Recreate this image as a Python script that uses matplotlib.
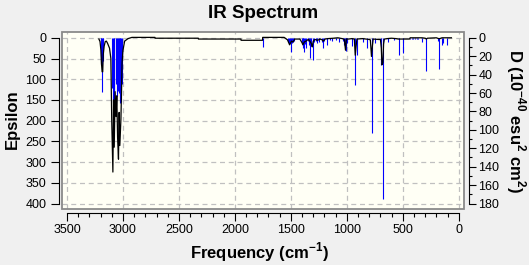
import matplotlib
matplotlib.use('Agg')
import matplotlib.pyplot as plt
from matplotlib.patches import Rectangle
from matplotlib.ticker import MultipleLocator

plt.rcParams['font.family'] = ['Liberation Sans', 'DejaVu Sans']
plt.rcParams['mathtext.fontset'] = 'custom'
plt.rcParams['mathtext.rm'] = 'Liberation Sans'
plt.rcParams['mathtext.bf'] = 'Liberation Sans:bold'

# broadened spectrum (black), frequency in cm-1 and epsilon
spec_freq = [3215, 3205, 3197, 3192, 3186, 3181, 3176, 3168, 3158, 3148, 3138, 3120, 3108,
             3100, 3090, 3084, 3078, 3070, 3062, 3055, 3048, 3040, 3034, 3028, 3018, 3008,
             3000, 2985, 2955, 2920, 2714, 2713, 2327, 2326, 1946, 1945, 1753, 1752,
             1560, 1530, 1511, 1495, 1480, 1465, 1420, 1400, 1393, 1380, 1365, 1345, 1330,
             1315, 1309, 1300, 1285, 1260, 1240, 1220, 1210, 1195, 1170, 1120, 1080, 1040,
             1022, 1012, 1004, 985, 955, 933, 925, 917, 910, 860, 830, 800, 790, 780, 772,
             765, 720, 700, 692, 686, 678, 672, 665, 640, 600, 560, 540, 505, 495, 440,
             435, 330, 300, 290, 280, 200, 180, 170, 150, 100, 66]
spec_eps = [3, 9, 30, 62, 82, 82, 40, 20, 9, 8, 13, 25, 50,
            203, 324, 150, 264, 130, 190, 140, 240, 293, 180, 260, 195, 60,
            30, 8, 2, -1, -1, 1, 1, 3, 3, 6, 6, -1,
            -1, 5, 17, 8, 10, 3, 3, 12, 17, 10, 8, 4, 8,
            15, 22, 8, 4, 6, 3, 5, 8, 3, 2, 1, 0, 2,
            4, 30, 3, 3, 2, 3, 42, 20, 3, 2, 3, 4, 5, 45, 20,
            3, 4, 4, 25, 65, 60, 15, 3, 2, 1, 2, 3, 3, 3, 3,
            0, 0, 1, 3, 1, 0, 2, 2, 0, 0, 0]

# stick spectrum (blue), frequency in cm-1 and D (1e-40 esu2 cm2)
stick_freq = [3198, 3192, 3186, 3180, 3175,
              3094, 3088, 3082, 3076, 3060, 3054, 3048,
              3034, 3028, 3022, 3016, 3010,
              1752, 1525, 1518, 1510, 1499, 1490, 1480, 1472,
              1405, 1395, 1390, 1383, 1375, 1362, 1350, 1335, 1329, 1318, 1300, 1290,
              1279, 1264, 1246, 1225, 1210, 1200, 1175, 1150, 1130, 1100, 1068, 1037,
              1025, 1018, 1010, 1005, 997, 951, 925, 907, 859, 817, 773, 749, 698, 674,
              630, 576, 532, 498, 435, 420, 405, 390, 375, 362, 326, 293, 190, 174,
              153, 138, 103]
stick_d = [20, 30, 58.7, 25, 10,
           55, 70, 76, 65, 50, 63, 58,
           60, 70.6, 65, 70, 50,
           9.8, 5, 7, 6, 15.2, 6, 5, 4,
           6, 10.8, 8, 15.2, 7, 11.5, 4, 8, 22.4, 9, 23.9, 5,
           4, 6, 4.3, 5, 11.6, 4, 7.9, 2, 3.6, 2, 4.3, 3.6,
           8, 10, 14, 12, 6, 8.7, 51, 18.8, 4.3, 11.6, 103, 6, 30, 174.6,
           5.1, 2.5, 18.8, 17, 1.5, 1.5, 1.5, 1.5, 1.5, 1.5, 4.3, 36, 4, 34.4,
           7.9, 6, 7.9]

W, H = 529, 265
fig = plt.figure(figsize=(W / 100, H / 100), dpi=100, facecolor='#f0f0f0')
ax = fig.add_axes([61.5 / W, (H - 208.5) / H, (464.5 - 61.5) / W, (208.5 - 32) / H])
ax.set_facecolor('#fffff5')
ax.set_xlim(3549, -51)
ax.set_ylim(412, -14)

ax2 = ax.twinx()
ax2.set_ylim(412 * 0.45, -14 * 0.45)

ax2.vlines(stick_freq, 0, stick_d, color='#0000ff', lw=0.8, zorder=2)
ax2.plot(spec_freq, spec_eps, color='black', lw=0.9, zorder=3, transform=ax.transData)

# grid
ax.grid(True, color='#c0c0c0', ls=(0, (4, 3)), lw=0.9)
ax.set_axisbelow(True)
ax.xaxis.set_major_locator(MultipleLocator(500))
ax.xaxis.set_minor_locator(MultipleLocator(100))
ax.yaxis.set_major_locator(MultipleLocator(50))
ax2.yaxis.set_major_locator(MultipleLocator(20))
ax2.yaxis.set_minor_locator(MultipleLocator(10))

for a in (ax, ax2):
    for s in a.spines.values():
        s.set_visible(False)

ax.spines['bottom'].set_visible(True)
ax.spines['bottom'].set_position(('outward', 3.5))
ax.spines['bottom'].set_bounds(3500, 0)
ax.spines['left'].set_visible(True)
ax.spines['left'].set_position(('outward', 2.0))
ax.spines['left'].set_bounds(0, 400)
ax2.spines['right'].set_visible(True)
ax2.spines['right'].set_position(('outward', 3.0))
ax2.spines['right'].set_bounds(0, 180)

ax.tick_params(axis='x', which='major', length=5.5, width=0.8, labelsize=9, pad=2)
ax.tick_params(axis='x', which='minor', length=3, width=0.8)
ax.tick_params(axis='y', which='major', length=6, width=0.8, labelsize=9, pad=3)
ax2.tick_params(axis='y', which='major', length=5, width=0.8, labelsize=9, pad=2)
ax2.tick_params(axis='y', which='minor', length=2.5, width=0.8)

ax.add_patch(Rectangle((0, 0), 1, 1, transform=ax.transAxes, fill=False,
                       ec='#8a8a8a', lw=1.3, clip_on=False, zorder=5))

fig.text(263 / W, 1 - 14 / H, 'IR Spectrum', ha='center', va='center',
         fontsize=13.5, fontweight='bold')
fig.text(259 / W, 1 - 252 / H, r'Frequency (cm$^{\mathbf{-1}}$)', ha='center', va='center',
         fontsize=12, fontweight='bold')
fig.text(12 / W, 1 - 119 / H, 'Epsilon', ha='center', va='center', rotation=90,
         fontsize=12, fontweight='bold')
fig.text(516 / W, 1 - 121 / H, r'D (10$^{\mathbf{-40}}$ esu$^{\mathbf{2}}$ cm$^{\mathbf{2}}$)',
         ha='center', va='center', rotation=270, fontsize=12, fontweight='bold')

fig.savefig('out.png', dpi=100, facecolor=fig.get_facecolor())
